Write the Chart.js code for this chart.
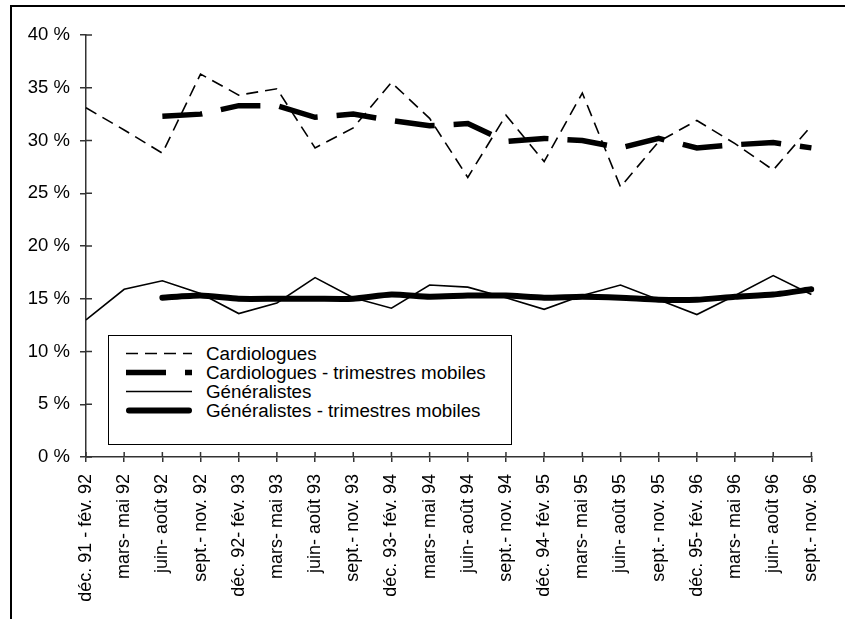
<!DOCTYPE html>
<html>
<head>
<meta charset="utf-8">
<script src="https://cdn.jsdelivr.net/npm/chart.js@4.4.1/dist/chart.umd.min.js"></script>
<style>
  body { margin: 0; background: #fff; }
  #wrap { position: relative; width: 845px; height: 619px; }
  #frame { position: absolute; left: 10px; top: 5px; right: -4px; bottom: -4px;
           border-left: 2px solid #000; border-top: 2px solid #000; pointer-events: none; }
  #legend { position: absolute; left: 108px; top: 335px; width: 402px; height: 108px;
            border: 1px solid #000; background: #fff;
            font-family: "Liberation Sans", Arial, sans-serif; font-size: 18.8px; color: #000; }
  .row { position: absolute; left: 0; height: 19px; line-height: 19px; white-space: nowrap; }
  .row canvas { position: absolute; left: 17px; top: 2px; }
  .row span { position: absolute; left: 97px; top: 0; }
</style>
</head>
<body>
<div id="wrap">
  <canvas id="chart"></canvas>
  <div id="frame"></div>
  <div id="legend"></div>
</div>
<script>
const labels = [
  'déc. 91 - fév. 92', 'mars- mai 92', 'juin- août 92', 'sept.- nov. 92',
  'déc. 92- fév. 93', 'mars- mai 93', 'juin- août 93', 'sept.- nov. 93',
  'déc. 93- fév. 94', 'mars- mai 94', 'juin- août 94', 'sept.- nov. 94',
  'déc. 94- fév. 95', 'mars- mai 95', 'juin- août 95', 'sept.- nov. 95',
  'déc. 95- fév. 96', 'mars- mai 96', 'juin- août 96', 'sept.- nov. 96'
];
const cardiologues = [33.1, 31.0, 28.8, 36.3, 34.3, 34.9, 29.3, 31.2, 35.5, 32.1,
                      26.5, 32.4, 28.0, 34.5, 25.6, 29.9, 31.9, 29.7, 27.2, 31.4];
const cardioMobiles = [null, null, 32.3, 32.5, 33.3, 33.3, 32.2, 32.5, 31.9, 31.4,
                       31.6, 29.9, 30.2, 30.0, 29.3, 30.2, 29.3, 29.6, 29.8, 29.3];
const generalistes = [13.0, 15.9, 16.7, 15.5, 13.6, 14.6, 17.0, 15.1, 14.1, 16.3,
                      16.1, 15.1, 14.0, 15.3, 16.3, 14.9, 13.5, 15.3, 17.2, 15.4];
const geneMobiles = [null, null, 15.1, 15.3, 15.0, 15.0, 15.0, 15.0, 15.4, 15.2,
                     15.3, 15.3, 15.1, 15.2, 15.1, 14.9, 14.9, 15.2, 15.4, 15.9];
const yTicks = [0, 5, 10, 15, 20, 25, 30, 35, 40];

const font = "'Liberation Sans', Arial, sans-serif";

// ticks that cross the axis line (the inner half; chart.js draws the outer half)
const innerTicks = {
  id: 'innerTicks',
  afterDraw(chart) {
    const ctx = chart.ctx;
    const x = chart.scales.x, y = chart.scales.y;
    ctx.save();
    ctx.strokeStyle = '#333';
    ctx.lineWidth = 1.5;
    ctx.beginPath();
    x.ticks.forEach((t, i) => {
      const px = x.getPixelForTick(i);
      ctx.moveTo(px, x.top); ctx.lineTo(px, x.top - 5);
    });
    y.ticks.forEach((t, i) => {
      const py = y.getPixelForTick(i);
      ctx.moveTo(y.right, py); ctx.lineTo(y.right + 6, py);
    });
    ctx.stroke();
    ctx.restore();
  }
};

const chart = new Chart(document.getElementById('chart'), {
  type: 'line',
  data: {
    labels: labels,
    datasets: [
      { label: 'Cardiologues', data: cardiologues, borderColor: '#000', borderWidth: 1.6,
        borderDash: [12, 7], borderCapStyle: 'butt', pointRadius: 0, tension: 0 },
      { label: 'Cardiologues - trimestres mobiles', data: cardioMobiles, borderColor: '#000', borderWidth: 5.5,
        borderDash: [40, 19], borderCapStyle: 'butt', pointRadius: 0, tension: 0 },
      { label: 'Généralistes', data: generalistes, borderColor: '#000', borderWidth: 1.6,
        pointRadius: 0, tension: 0 },
      { label: 'Généralistes - trimestres mobiles', data: geneMobiles, borderColor: '#000', borderWidth: 6,
        borderCapStyle: 'round', borderJoinStyle: 'round', pointRadius: 0, tension: 0.2 }
    ]
  },
  options: {
    responsive: true,
    maintainAspectRatio: false,
    animation: false,
    layout: { padding: { left: 0, top: 35, right: 15, bottom: 0 } },
    plugins: { legend: { display: false }, tooltip: { enabled: false } },
    scales: {
      x: {
        offset: false,
        afterFit: (s) => { s.height = 162; },
        grid: { display: true, drawOnChartArea: false, drawTicks: true, tickLength: 5, color: '#333', lineWidth: 1.5 },
        border: { color: '#333', width: 1.5 },
        ticks: { color: '#000', font: { family: font, size: 18 }, minRotation: 90, maxRotation: 90,
                 autoSkip: false, padding: 12 }
      },
      y: {
        min: 0, max: 40,
        afterFit: (s) => { s.width = 86; },
        afterBuildTicks: (s) => { s.ticks = yTicks.map(v => ({ value: v })); },
        grid: { display: true, drawOnChartArea: false, drawTicks: true, tickLength: 6, color: '#333', lineWidth: 1.5 },
        border: { color: '#333', width: 1.5 },
        ticks: { color: '#000', font: { family: font, size: 18.5 }, padding: 10,
                 callback: (v) => v + ' %' }
      }
    }
  },
  plugins: [innerTicks]
});

// html legend built from the datasets
const legend = document.getElementById('legend');
const rowTops = [8, 27, 46, 65];
chart.data.datasets.forEach((ds, i) => {
  const row = document.createElement('div');
  row.className = 'row';
  row.style.top = rowTops[i] + 'px';
  const c = document.createElement('canvas');
  c.width = 66; c.height = 15;
  const g = c.getContext('2d');
  g.strokeStyle = '#000';
  g.lineWidth = ds.borderWidth;
  g.lineCap = ds.borderCapStyle || 'butt';
  g.setLineDash(ds.borderDash || []);
  g.beginPath();
  const pad = g.lineCap === 'round' ? 3 : 0;
  g.moveTo(pad, 7.5); g.lineTo(66 - pad, 7.5);
  g.stroke();
  const span = document.createElement('span');
  span.textContent = ds.label;
  row.appendChild(c);
  row.appendChild(span);
  legend.appendChild(row);
});
</script>
</body>
</html>
